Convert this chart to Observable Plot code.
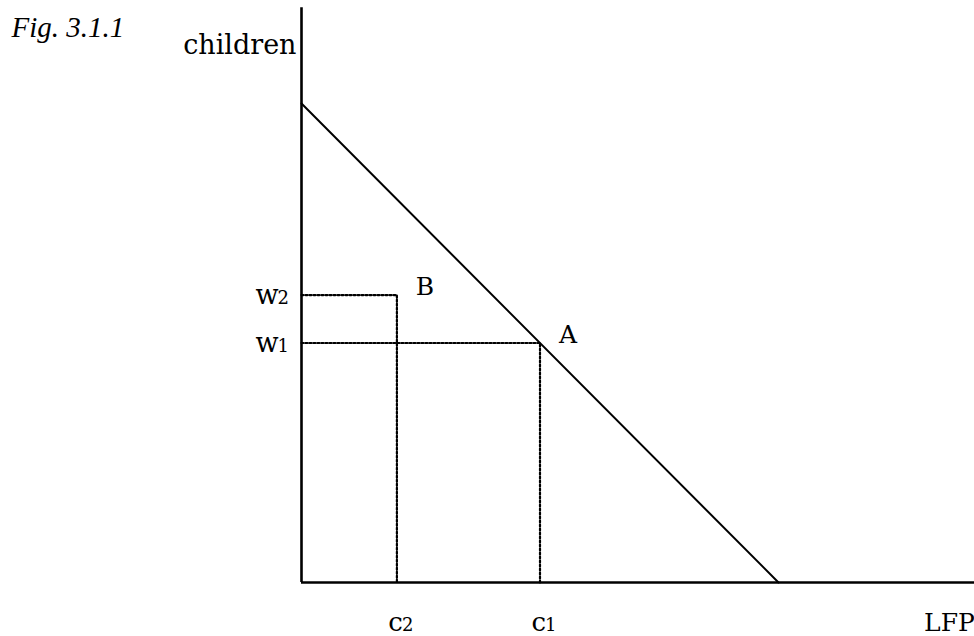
<!DOCTYPE html>
<html>
<head>
<meta charset="utf-8">
<script src="https://cdn.jsdelivr.net/npm/d3@7"></script>
<script src="https://cdn.jsdelivr.net/npm/@observablehq/plot@0.6"></script>
<style>
  html, body { margin: 0; padding: 0; background: #fff; }
  #chart { position: relative; width: 974px; height: 636px; overflow: hidden; }
  #chart svg { display: block; }
</style>
</head>
<body>
<div id="chart"></div>
<script>
// ---- data ----
const budgetLFP = [0, 10];
const budgetChildren = [10, 0];
const pointNames = ["A", "B"];
const pointLFP = [5, 2];
const pointChildren = [5, 6];
const xTickMain = ["c", "c"];
const xTickSub = ["1", "2"];
const yTickMain = ["w", "w"];
const yTickSub = ["1", "2"];
const xAxisLabel = "LFP";
const yAxisLabel = "children";
const figTitle = "Fig. 3.1.1";

const budget = budgetLFP.map((v, i) => ({lfp: v, children: budgetChildren[i]}));
const pts = pointNames.map((n, i) => ({name: n, lfp: pointLFP[i], children: pointChildren[i],
  xm: xTickMain[i], xs: xTickSub[i], ym: yTickMain[i], ys: yTickSub[i]}));

const serif = "DejaVu Serif";
const guides = pts.map(p => [
  {lfp: 0, children: p.children, g: p.name},
  {lfp: p.lfp, children: p.children, g: p.name},
  {lfp: p.lfp, children: 0, g: p.name}
]).flat();

const chart = Plot.plot({
  width: 974,
  height: 636,
  margin: 0,
  x: {domain: [0, 14], range: [301, 968.8], axis: null},
  y: {domain: [0, 12], range: [582, 7.2], axis: null},
  style: {background: "#fff"},
  marks: [
    Plot.line(guides, {x: "lfp", y: "children", z: "g", stroke: "#000", strokeWidth: 2.2, strokeDasharray: "2,2"}),
    Plot.line(budget, {x: "lfp", y: "children", stroke: "#000", strokeWidth: 2}),
    Plot.ruleY([0], {x1: 0, x2: 14.2, stroke: "#000", strokeWidth: 2.6}),
    Plot.ruleX([0], {y1: 0, y2: 12, stroke: "#000", strokeWidth: 2.6}),
    // point labels
    Plot.text(pts, {x: "lfp", y: "children", text: "name", dx: 28, dy: -8, fontFamily: serif, fontSize: 25, textAnchor: "middle", fill: "#000"}),
    // y tick labels
    Plot.text(pts, {x: 0, y: "children", text: "ym", dx: -23, dy: 0, fontFamily: serif, fontSize: 27, textAnchor: "end", fill: "#000"}),
    Plot.text(pts, {x: 0, y: "children", text: "ys", dx: -24, dy: 3, fontFamily: serif, fontSize: 18, textAnchor: "start", fill: "#000"}),
    // x tick labels
    Plot.text(pts, {x: "lfp", y: 0, text: "xm", dx: 6, dy: 40, fontFamily: serif, fontSize: 26, textAnchor: "end", fill: "#000"}),
    Plot.text(pts, {x: "lfp", y: 0, text: "xs", dx: 5, dy: 43, fontFamily: serif, fontSize: 18, textAnchor: "start", fill: "#000"}),
    // axis labels
    Plot.text([yAxisLabel], {x: 0, y: 12, text: d => d, dx: -5, dy: 38, fontFamily: serif, fontSize: 27, textAnchor: "end", fill: "#000"}),
    Plot.text([xAxisLabel], {x: 14.2, y: 0, text: d => d, dx: -4, dy: 40, fontFamily: serif, fontSize: 25, textAnchor: "end", fill: "#000"}),
    Plot.text([figTitle], {frameAnchor: "top-left", text: d => d, dx: 11, dy: 16, fontFamily: "Liberation Serif", fontStyle: "italic", fontSize: 29, textAnchor: "start", fill: "#000"})
  ]
});
document.getElementById("chart").appendChild(chart);
</script>
</body>
</html>
